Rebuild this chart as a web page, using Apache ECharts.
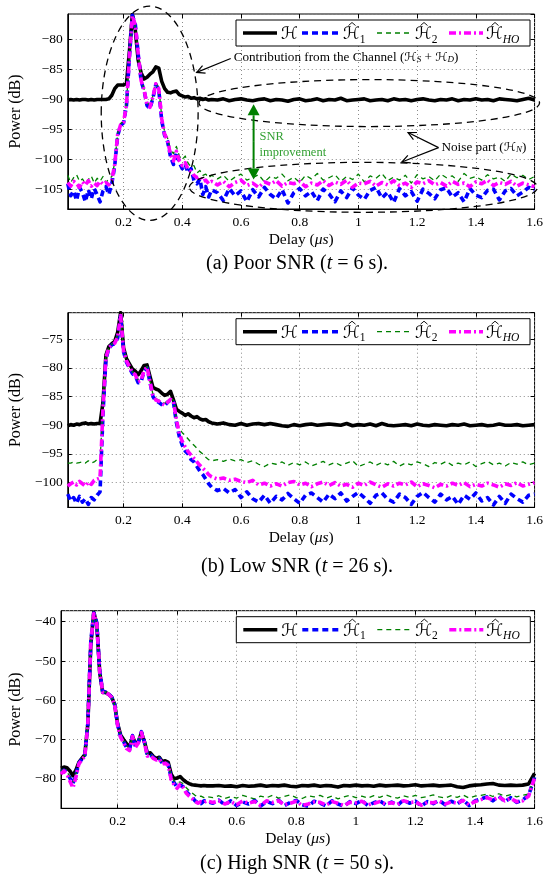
<!DOCTYPE html>
<html><head><meta charset="utf-8">
<script src="https://cdn.jsdelivr.net/npm/echarts@6/dist/echarts.min.js"></script>
<style>html,body{margin:0;padding:0;background:#fff}#c{width:546px;height:882px}</style>
</head><body><div id="c"></div>
<script>
// ---------------- DATA ----------------
const X = [0.01,0.02,0.03,0.04,0.05,0.06,0.07,0.08,0.09,0.10,
0.11,0.12,0.13,0.14,0.15,0.16,0.17,0.18,0.19,0.20,
0.21,0.22,0.23,0.24,0.25,0.26,0.27,0.28,0.29,0.30,
0.31,0.32,0.33,0.34,0.35,0.36,0.37,0.38,0.39,0.40,
0.41,0.42,0.43,0.44,0.45,0.46,0.47,0.48,0.49,0.50,
0.52,0.54,0.56,0.58,0.60,0.62,0.64,0.66,0.68,0.70,
0.72,0.74,0.76,0.78,0.80,0.82,0.84,0.86,0.88,0.90,
0.92,0.94,0.96,0.98,1.00,1.02,1.04,1.06,1.08,1.10,
1.12,1.14,1.16,1.18,1.20,1.22,1.24,1.26,1.28,1.30,
1.32,1.34,1.36,1.38,1.40,1.42,1.44,1.46,1.48,1.50,
1.52,1.54,1.56,1.58,1.60];

// (a) Poor SNR
const A_H = [-90.1,-90.0,-90.1,-90.0,-90.1,-90.0,-90.0,-90.1,-90.0,-90.1,
-90.0,-90.0,-90.0,-90.0,-89.9,-89.3,-88.2,-87.6,-87.6,-87.6,
-87.3,-82.0,-75.9,-78.5,-83.5,-85.6,-86.6,-86.3,-85.8,-85.4,
-84.6,-84.8,-87.0,-88.2,-88.8,-88.9,-88.7,-88.6,-89.2,-89.4,
-89.6,-89.5,-89.8,-89.7,-89.9,-89.8,-90.0,-89.9,-90.1,-90.0,
-90.1,-89.9,-90.2,-90.0,-89.9,-90.1,-90.2,-90.0,-89.9,-90.2,
-90.0,-90.1,-90.3,-90.0,-89.9,-90.2,-90.1,-89.9,-90.2,-90.0,
-90.1,-89.8,-90.2,-90.1,-90.0,-89.9,-90.2,-90.1,-90.0,-90.2,
-89.9,-90.1,-90.0,-90.2,-90.0,-89.9,-90.1,-90.2,-90.0,-90.1,
-89.9,-90.2,-90.0,-90.1,-89.9,-90.1,-90.0,-90.2,-89.9,-90.0,
-90.1,-90.2,-90.0,-89.8,-90.1];
const A_H1 = [-104.0,-106.0,-105.2,-106.8,-104.6,-105.5,-107.0,-105.0,-106.5,-104.8,
-105.8,-107.0,-105.2,-104.5,-105.8,-104.0,-101.0,-96.0,-94.3,-93.9,
-91.0,-83.0,-76.0,-77.5,-82.5,-87.0,-88.5,-91.0,-91.5,-89.8,
-87.5,-88.4,-93.5,-96.0,-97.0,-99.5,-100.8,-98.8,-100.5,-101.5,
-100.8,-102.2,-101.5,-103.5,-104.0,-103.2,-105.8,-104.5,-106.2,-105.0,
-105.5,-106.8,-104.8,-106.0,-105.2,-107.0,-105.0,-106.2,-104.6,-105.8,
-106.5,-105.0,-107.2,-105.5,-104.8,-106.0,-105.3,-106.8,-104.9,-105.7,
-107.0,-105.2,-106.3,-104.7,-105.9,-106.6,-105.1,-104.6,-106.4,-105.4,
-107.1,-104.8,-106.0,-105.3,-106.9,-104.9,-105.6,-106.5,-105.0,-104.7,
-106.2,-105.5,-107.0,-104.8,-105.9,-106.3,-105.1,-104.9,-106.7,-105.2,
-104.8,-106.0,-105.4,-104.6,-105.0];
const A_H2 = [-102.6,-103.8,-103.0,-102.5,-103.6,-103.2,-104.0,-103.3,-102.7,-103.9,
-103.1,-103.6,-102.8,-103.8,-103.2,-102.8,-100.5,-95.6,-94.0,-93.6,
-90.7,-82.7,-76.2,-77.8,-82.3,-86.6,-88.3,-90.5,-91.0,-89.4,
-87.2,-88.1,-92.8,-95.4,-96.4,-98.4,-99.0,-97.8,-99.4,-100.0,
-99.4,-100.6,-101.2,-101.0,-102.2,-101.8,-102.6,-102.4,-103.0,-102.6,
-103.2,-102.6,-103.6,-102.9,-102.4,-103.4,-103.0,-102.5,-103.7,-102.8,
-103.1,-102.4,-103.5,-102.9,-103.8,-102.6,-103.2,-102.3,-103.4,-103.0,
-102.5,-103.6,-102.8,-103.3,-102.4,-103.7,-102.7,-103.1,-102.3,-103.5,
-102.9,-103.4,-102.6,-103.9,-102.5,-103.2,-102.8,-103.5,-102.4,-103.0,
-102.7,-103.6,-102.3,-103.1,-102.8,-103.4,-102.5,-103.2,-102.9,-103.6,
-102.4,-103.0,-102.6,-103.3,-102.8];
const A_HO = [-103.8,-104.4,-103.6,-104.0,-104.6,-103.7,-104.2,-103.5,-104.4,-103.9,
-104.3,-103.6,-104.1,-103.8,-104.2,-103.4,-100.8,-95.8,-94.2,-93.8,
-90.9,-82.8,-76.1,-77.6,-82.4,-86.9,-88.4,-90.8,-91.3,-89.6,
-87.4,-88.2,-93.2,-95.8,-96.8,-99.2,-100.2,-98.6,-100.2,-101.0,
-100.5,-101.6,-102.0,-102.6,-103.0,-102.8,-103.6,-103.4,-104.0,-103.6,
-104.2,-103.6,-104.5,-103.8,-103.4,-104.3,-103.9,-104.6,-103.7,-104.1,
-103.5,-104.4,-103.8,-104.0,-103.6,-104.5,-103.9,-104.2,-103.5,-104.3,
-103.7,-104.1,-103.4,-104.6,-103.9,-104.0,-103.6,-104.4,-103.8,-104.2,
-103.5,-104.3,-103.9,-104.6,-103.7,-104.0,-103.5,-104.2,-103.8,-104.4,
-103.6,-104.1,-103.9,-104.5,-103.7,-104.0,-103.4,-104.3,-103.8,-104.1,
-103.6,-104.4,-103.9,-104.2,-104.5];

// (b) Low SNR
const B_H = [-90.1,-89.9,-90.0,-89.8,-89.9,-89.7,-89.6,-89.8,-89.7,-89.8,
-89.7,-89.7,-86.0,-77.8,-76.3,-75.8,-75.4,-73.8,-70.4,-76.5,
-78.4,-79.3,-80.2,-80.6,-81.2,-80.5,-79.6,-79.5,-81.5,-83.4,
-83.7,-83.9,-84.4,-84.8,-84.6,-84.1,-85.6,-87.2,-87.6,-87.9,
-88.3,-88.0,-88.4,-88.7,-88.5,-88.9,-89.1,-89.0,-89.4,-89.6,
-89.8,-89.6,-89.9,-90.0,-89.7,-90.0,-89.8,-89.7,-89.9,-89.7,
-89.9,-90.1,-90.2,-89.9,-90.1,-89.9,-89.8,-90.0,-89.9,-89.8,
-89.9,-90.0,-89.7,-90.1,-89.9,-90.0,-89.8,-90.1,-89.7,-90.0,
-90.1,-90.0,-89.9,-90.1,-89.8,-90.0,-90.1,-89.9,-90.0,-90.1,
-89.9,-90.0,-89.8,-90.1,-90.0,-89.9,-90.1,-90.0,-89.8,-90.0,
-90.0,-89.9,-90.1,-90.0,-89.9];
const B_H1 = [-102.0,-103.2,-102.6,-103.6,-102.4,-103.4,-102.8,-103.8,-102.6,-103.0,
-102.2,-101.6,-88.0,-78.5,-76.6,-76.0,-75.8,-74.8,-71.0,-77.2,
-79.0,-80.0,-81.0,-81.4,-82.6,-82.4,-80.6,-80.0,-82.5,-85.0,
-85.8,-86.0,-86.4,-86.6,-86.0,-85.6,-86.0,-89.5,-92.0,-93.5,
-94.5,-95.0,-96.0,-96.4,-97.2,-98.0,-98.6,-99.4,-100.2,-100.8,
-101.4,-101.0,-101.8,-101.2,-102.6,-101.6,-102.8,-103.4,-102.2,-103.6,
-102.4,-103.0,-101.9,-102.8,-103.6,-102.2,-101.8,-102.6,-103.4,-102.0,
-102.8,-101.8,-103.2,-102.4,-101.7,-102.6,-103.6,-102.2,-101.8,-102.9,
-103.4,-102.0,-102.6,-103.8,-102.4,-101.7,-102.6,-103.4,-102.0,-103.0,
-102.4,-103.8,-102.2,-102.9,-101.8,-103.2,-102.6,-103.9,-102.4,-103.6,
-102.0,-102.8,-103.4,-102.2,-102.0];
const B_H2 = [-96.6,-96.6,-96.4,-96.6,-96.5,-96.4,-96.6,-96.2,-96.6,-96.4,
-96.0,-96.2,-86.5,-78.0,-76.4,-75.9,-75.6,-74.4,-70.8,-76.9,
-78.7,-79.7,-80.7,-81.0,-82.2,-82.0,-80.3,-79.8,-82.2,-84.6,
-85.4,-85.6,-86.0,-86.2,-85.7,-85.3,-85.6,-88.8,-90.6,-91.3,
-91.8,-92.4,-93.0,-93.5,-94.0,-94.6,-95.0,-95.6,-96.0,-96.2,
-96.0,-96.3,-95.9,-96.2,-96.0,-96.5,-96.2,-96.8,-97.2,-96.6,
-96.8,-96.4,-97.0,-96.5,-96.9,-96.4,-97.1,-96.7,-96.3,-96.9,
-96.5,-97.0,-96.6,-96.2,-97.2,-96.8,-96.4,-97.0,-96.5,-96.9,
-96.3,-97.1,-96.6,-96.9,-96.4,-96.7,-97.2,-96.5,-96.8,-96.3,
-97.0,-96.6,-96.9,-96.4,-97.2,-96.7,-96.3,-96.9,-96.6,-97.1,
-96.5,-96.8,-96.4,-96.9,-96.6];
const B_HO = [-100.6,-100.2,-99.9,-100.4,-99.8,-100.2,-100.6,-99.9,-100.3,-99.6,
-99.4,-99.2,-87.2,-78.2,-76.5,-76.0,-75.7,-74.6,-70.9,-77.0,
-78.8,-79.8,-80.8,-81.2,-82.4,-82.2,-80.4,-79.9,-82.4,-84.8,
-85.6,-85.8,-86.2,-86.5,-86.0,-85.5,-85.8,-89.0,-91.5,-92.8,
-93.8,-94.6,-95.2,-95.8,-96.4,-97.0,-97.5,-98.0,-98.6,-99.0,
-99.4,-99.2,-99.6,-99.4,-99.8,-100.0,-99.6,-100.4,-100.1,-100.6,
-100.2,-100.6,-100.0,-99.8,-100.4,-100.1,-100.7,-100.2,-99.9,-100.5,
-100.0,-100.6,-100.3,-100.8,-100.1,-100.5,-99.9,-100.4,-100.8,-100.2,
-100.6,-100.1,-100.4,-99.9,-100.7,-100.2,-100.5,-100.9,-100.3,-100.6,
-100.1,-100.5,-100.0,-100.7,-100.3,-100.6,-100.1,-100.4,-100.8,-100.2,
-100.5,-100.0,-100.6,-100.3,-100.0];

// (c) High SNR
const C_H = [-77.3,-77.0,-77.2,-78.0,-79.2,-77.8,-75.8,-74.8,-73.8,-66.0,
-46.0,-37.6,-40.5,-53.0,-58.0,-58.0,-58.5,-59.2,-61.0,-66.0,
-68.8,-70.0,-71.0,-72.0,-69.2,-71.0,-70.5,-68.2,-70.5,-73.5,
-73.4,-74.3,-74.8,-74.5,-75.6,-75.4,-75.8,-78.8,-80.0,-79.8,
-79.4,-80.2,-80.8,-81.2,-81.5,-81.6,-81.7,-81.8,-81.7,-81.8,
-81.8,-81.7,-81.9,-81.8,-82.0,-81.7,-81.9,-81.8,-81.6,-81.9,
-81.7,-81.8,-81.6,-81.9,-82.0,-81.7,-81.8,-81.6,-81.9,-81.7,
-81.8,-82.1,-81.7,-81.8,-81.6,-81.8,-81.7,-81.9,-81.6,-81.8,
-81.7,-81.6,-81.8,-81.7,-81.5,-81.8,-81.7,-81.6,-81.8,-81.7,
-81.6,-82.0,-82.2,-81.8,-81.6,-81.5,-81.3,-81.2,-81.6,-81.7,
-81.6,-81.7,-81.6,-81.3,-78.6];
const C_H1 = [-78.2,-77.8,-78.4,-79.8,-81.2,-79.0,-76.0,-75.0,-74.0,-66.0,
-45.0,-37.8,-40.2,-52.5,-57.8,-57.9,-58.4,-59.2,-61.0,-66.2,
-69.2,-70.5,-72.0,-72.6,-69.0,-71.8,-70.6,-68.0,-70.6,-74.0,
-73.8,-74.6,-75.0,-74.8,-76.0,-75.8,-76.4,-79.8,-81.0,-82.2,
-81.6,-82.0,-83.2,-84.0,-84.6,-85.6,-86.0,-86.3,-85.6,-85.8,
-86.2,-85.4,-86.6,-85.6,-86.8,-85.9,-86.4,-85.5,-86.9,-85.8,
-86.3,-85.4,-86.8,-86.0,-85.5,-86.6,-87.0,-85.7,-86.2,-86.9,
-85.6,-86.4,-87.0,-85.8,-86.3,-85.5,-86.8,-86.1,-85.6,-86.6,
-85.9,-86.7,-85.4,-86.2,-85.7,-86.9,-85.8,-86.3,-85.5,-86.6,
-85.7,-86.4,-85.3,-86.8,-85.6,-85.1,-84.6,-85.6,-84.4,-85.8,
-84.8,-86.0,-85.4,-84.2,-79.6];
const C_H2 = [-78.0,-77.6,-78.2,-79.5,-80.8,-78.8,-75.9,-74.9,-73.9,-66.0,
-45.2,-37.8,-40.3,-52.7,-57.9,-57.9,-58.4,-59.2,-61.0,-66.1,
-69.0,-70.3,-71.6,-72.4,-69.0,-71.6,-70.4,-68.1,-70.4,-73.8,
-73.6,-74.5,-74.9,-74.7,-75.8,-75.6,-76.2,-79.4,-80.6,-81.0,
-80.8,-81.2,-82.2,-83.0,-83.6,-84.2,-84.6,-84.4,-84.8,-84.5,
-84.8,-84.3,-85.0,-84.5,-84.9,-84.2,-84.7,-85.1,-84.4,-84.8,
-84.2,-84.9,-84.5,-84.1,-84.8,-85.0,-84.3,-84.6,-84.2,-84.9,
-84.4,-85.1,-84.6,-84.2,-84.8,-84.4,-84.9,-84.3,-84.7,-84.1,
-84.6,-84.9,-84.3,-84.7,-84.2,-84.8,-84.5,-84.1,-84.6,-84.9,
-84.3,-84.7,-84.1,-84.9,-84.4,-84.2,-83.9,-84.5,-83.8,-84.4,
-84.0,-84.6,-84.2,-83.9,-79.4];
const C_HO = [-78.8,-78.0,-78.8,-80.6,-82.3,-79.6,-76.2,-75.2,-74.2,-66.4,
-45.5,-37.9,-40.4,-52.8,-58.0,-58.0,-58.5,-59.3,-61.2,-66.4,
-69.4,-70.8,-72.3,-72.8,-69.2,-72.0,-70.8,-68.2,-70.8,-74.2,
-74.0,-74.8,-75.2,-75.0,-76.2,-76.0,-76.6,-80.2,-81.6,-82.4,
-81.4,-82.2,-83.6,-84.4,-85.0,-85.8,-86.2,-85.8,-86.0,-85.6,
-86.0,-85.6,-86.4,-85.8,-86.6,-85.6,-86.2,-85.8,-86.8,-85.6,
-86.0,-85.6,-86.6,-86.2,-85.7,-86.8,-86.4,-85.9,-86.0,-86.7,
-85.8,-86.2,-86.8,-86.0,-86.1,-85.7,-86.6,-86.3,-85.8,-86.4,
-86.1,-86.5,-85.6,-86.0,-85.9,-86.7,-86.0,-86.1,-85.7,-86.4,
-85.9,-86.2,-85.5,-86.6,-85.8,-85.3,-84.8,-85.4,-84.6,-85.6,
-85.0,-85.8,-85.6,-84.4,-79.8];

const CAPTIONS = [['(a) Poor SNR (', 't', ' = 6 s).'], ['(b) Low SNR (', 't', ' = 26 s).'], ['(c) High SNR (', 't', ' = 50 s).']];

// ---------------- LAYOUT / STYLE ----------------
const SERIF = '"Liberation Serif", "Times New Roman", serif';
const MATHF = '"DejaVu Serif", "DejaVu Sans", serif';
const GRIDS = [
  {left: 65, top: 14, width: 472, height: 195, nameGap: 39, capY: 264},
  {left: 65, top: 312.7, width: 472, height: 194.6, nameGap: 39, capY: 567},
  {left: 58.3, top: 610.7, width: 479, height: 197.6, nameGap: 33, capY: 864}
];
const YR = [[-108.2, -75.8], [-104.3, -70.4], [-87.5, -37.2]];
const YSPLIT = [6, 6, 5];
const PANELS = [[A_H, A_H1, A_H2, A_HO], [B_H, B_H1, B_H2, B_HO], [C_H, C_H1, C_H2, C_HO]];
const STY = [
  {color: '#000000', width: 3.6, dash: 'solid', z: 2},
  {color: '#0000ff', width: 3.6, dash: [6, 4], z: 3},
  {color: '#008000', width: 1.3, dash: [5, 4], z: 4},
  {color: '#ff00ff', width: 3.6, dash: [7, 3, 2, 3], z: 5}
];

const fmtY = v => (v < 0 ? '\u2212' : '') + Math.abs(v);
const fmtX = v => String(+v.toFixed(2));

const grid = [], xAxis = [], yAxis = [], series = [];
GRIDS.forEach((g, p) => {
  grid.push({left: g.left, top: g.top, width: g.width, height: g.height, show: true,
    borderColor: '#000', borderWidth: 1, backgroundColor: 'transparent'});
  ['bottom', 'top'].forEach(pos => {
    const main = pos === 'bottom';
    xAxis.push({type: 'value', gridIndex: p, position: pos, min: 0.01, max: 1.6, splitNumber: 8,
      axisLine: {show: main, onZero: false, lineStyle: {color: '#000', width: 1}},
      axisTick: {show: true, inside: true, length: 4, lineStyle: {color: '#000'}},
      axisLabel: {show: main, showMinLabel: false, color: '#000', fontFamily: SERIF, fontSize: 13.5, margin: 6, formatter: fmtX},
      splitLine: {show: main, lineStyle: {color: '#8a8a8a', width: 1, type: [1, 3]}},
      name: main ? '{n|Delay (}{i|\u03bcs}{n|)}' : '', nameLocation: 'middle', nameGap: 23,
      nameTextStyle: {rich: {n: {fontFamily: SERIF, fontSize: 15.5, color: '#000'}, i: {fontFamily: SERIF, fontStyle: 'italic', fontSize: 15.5, color: '#000'}}}
    });
  });
  ['left', 'right'].forEach(pos => {
    const main = pos === 'left';
    yAxis.push({type: 'value', gridIndex: p, position: pos, min: YR[p][0], max: YR[p][1], splitNumber: YSPLIT[p],
      axisLine: {show: main, onZero: false, lineStyle: {color: '#000', width: 1}},
      axisTick: {show: true, inside: true, length: 4, lineStyle: {color: '#000'}},
      axisLabel: {show: main, showMinLabel: false, showMaxLabel: false, color: '#000', fontFamily: SERIF, fontSize: 13.5, margin: 5, formatter: fmtY},
      splitLine: {show: main, lineStyle: {color: '#8a8a8a', width: 1, type: [1, 3]}},
      name: main ? 'Power (dB)' : '', nameLocation: 'middle', nameGap: g.nameGap, nameRotate: 90,
      nameTextStyle: {fontFamily: SERIF, fontSize: 16, color: '#000'}
    });
  });
  PANELS[p].forEach((ys, k) => {
    const s = STY[k];
    series.push({type: 'line', xAxisIndex: 2 * p, yAxisIndex: 2 * p, symbol: 'none', silent: true,
      animation: false, clip: true, z: s.z,
      lineStyle: {color: s.color, width: s.width, type: s.dash, cap: 'butt', join: 'round'},
      data: X.map((x, i) => [x, ys[i]])});
  });
});

const chart = echarts.init(document.getElementById('c'), null, {renderer: 'canvas'});
chart.setOption({animation: false, backgroundColor: '#fff', grid, xAxis, yAxis, series});

// ---------------- ANNOTATIONS ----------------
const P = (p, x, y) => chart.convertToPixel({xAxisIndex: 2 * p, yAxisIndex: 2 * p}, [x, y]);
const G = [];
function arrow(a, b, color, w, filled, hl, hw) {
  const dx = b[0] - a[0], dy = b[1] - a[1], L = Math.hypot(dx, dy), ux = dx / L, uy = dy / L;
  const base = [b[0] - ux * hl, b[1] - uy * hl];
  const h1 = [base[0] - uy * hw, base[1] + ux * hw], h2 = [base[0] + uy * hw, base[1] - ux * hw];
  G.push({type: 'line', shape: {x1: a[0], y1: a[1], x2: filled ? base[0] : b[0], y2: filled ? base[1] : b[1]}, style: {stroke: color, lineWidth: w}, z: 100});
  if (filled) G.push({type: 'polygon', shape: {points: [h1, b, h2]}, style: {fill: color}, z: 100});
  else G.push({type: 'polyline', shape: {points: [h1, b, h2]}, style: {stroke: color, lineWidth: w, fill: null}, z: 100});
}
function ellipse(p, cx, cy, rx, ry) {
  const c = P(p, cx, cy), e = P(p, cx + rx, cy + ry);
  G.push({type: 'ellipse', shape: {cx: c[0], cy: c[1], rx: Math.abs(e[0] - c[0]), ry: Math.abs(e[1] - c[1])},
    style: {stroke: '#000', lineWidth: 1.3, lineDash: [7, 5], fill: null}, z: 90});
}
const richBase = {
  t: {fontFamily: SERIF, fontSize: 13.2, color: '#333'},
  m: {fontFamily: MATHF, fontSize: 12.5, color: '#333'},
  s: {fontFamily: SERIF, fontStyle: 'italic', fontSize: 9, color: '#333', verticalAlign: 'bottom'}
};
// ellipses
ellipse(0, 0.289, -92.3, 0.165, 17.8);
ellipse(0, 1.037, -90.6, 0.58, 3.9);
ellipse(0, 1.017, -104.6, 0.593, 4.15);
// contribution annotation
arrow(P(0, 0.565, -83.2), P(0, 0.449, -85.5), '#000', 1.2, false, 8, 4);
let q = P(0, 0.575, -83.0);
G.push({type: 'text', x: q[0], y: q[1], z: 110, style: {text: '{t|Contribution from the Channel (}{m|\u210b}{s|S}{t| + }{m|\u210b}{s|D}{t|)}', rich: richBase, align: 'left', verticalAlign: 'middle'}});
// noise annotation
arrow(P(0, 1.273, -98.0), P(0, 1.169, -95.5), '#000', 1.2, false, 8, 4);
arrow(P(0, 1.273, -98.0), P(0, 1.148, -100.4), '#000', 1.2, false, 8, 4);
q = P(0, 1.283, -98.0);
G.push({type: 'text', x: q[0], y: q[1], z: 110, style: {text: '{t|Noise part (}{m|\u210b}{s|N}{t|)}', rich: richBase, align: 'left', verticalAlign: 'middle'}});
// SNR improvement double arrow
const ga = P(0, 0.643, -90.8), gb = P(0, 0.643, -103.3), gm = [(ga[0] + gb[0]) / 2, (ga[1] + gb[1]) / 2];
arrow(gm, ga, '#008000', 2, true, 11, 6);
arrow(gm, gb, '#008000', 2, true, 11, 6);
q = P(0, 0.663, -97.5);
G.push({type: 'text', x: q[0], y: q[1], z: 110, style: {text: 'SNR\nimprovement', fontFamily: SERIF, fontSize: 12.5, lineHeight: 16, fill: '#33a033', align: 'left', verticalAlign: 'middle'}});

// legends
const LEG = [
  {x0: 7, x1: 41, tx: 45, hat: false, txt: '{h|\u210b}'},
  {x0: 66, x1: 104, tx: 107, hat: true, txt: '{h|\u210b}{b|1}'},
  {x0: 141, x1: 176, tx: 179, hat: true, txt: '{h|\u210b}{b|2}'},
  {x0: 213, x1: 247, tx: 250, hat: true, txt: '{h|\u210b}{c|HO}'}
];
const legRich = {
  h: {fontFamily: MATHF, fontSize: 17, color: '#000', lineHeight: 22},
  b: {fontFamily: SERIF, fontSize: 11.5, color: '#000', verticalAlign: 'bottom', lineHeight: 22},
  c: {fontFamily: SERIF, fontStyle: 'italic', fontSize: 11.5, color: '#000', verticalAlign: 'bottom', lineHeight: 22}
};
GRIDS.forEach((g, p) => {
  const bx = g.left + g.width - 7 - 294, by = g.top + 6, my = by + 13;
  G.push({type: 'rect', shape: {x: bx, y: by, width: 294, height: 26}, style: {fill: '#fff', stroke: '#000', lineWidth: 1}, z: 120});
  LEG.forEach((it, k) => {
    const s = STY[k];
    G.push({type: 'line', shape: {x1: bx + it.x0, y1: my, x2: bx + it.x1, y2: my},
      style: {stroke: s.color, lineWidth: s.width, lineDash: s.dash === 'solid' ? null : s.dash}, z: 121});
    G.push({type: 'text', x: bx + it.tx, y: my + 1.5, z: 121, style: {text: it.txt, rich: legRich, align: 'left', verticalAlign: 'middle'}});
    if (it.hat) {
      const hx = bx + it.tx + 9;
      G.push({type: 'polyline', shape: {points: [[hx - 3.5, my - 7.5], [hx, my - 10.5], [hx + 3.5, my - 7.5]]},
        style: {stroke: '#000', lineWidth: 0.9, fill: null}, z: 122});
    }
  });
  const cap = CAPTIONS[p];
  G.push({type: 'text', x: 297, y: g.capY, z: 110, style: {
    text: '{n|' + cap[0] + '}{i|' + cap[1] + '}{n|' + cap[2] + '}', align: 'center', verticalAlign: 'middle',
    rich: {n: {fontFamily: SERIF, fontSize: 20, color: '#000'}, i: {fontFamily: SERIF, fontStyle: 'italic', fontSize: 20, color: '#000'}}}});
});
chart.setOption({graphic: G});
</script></body></html>
